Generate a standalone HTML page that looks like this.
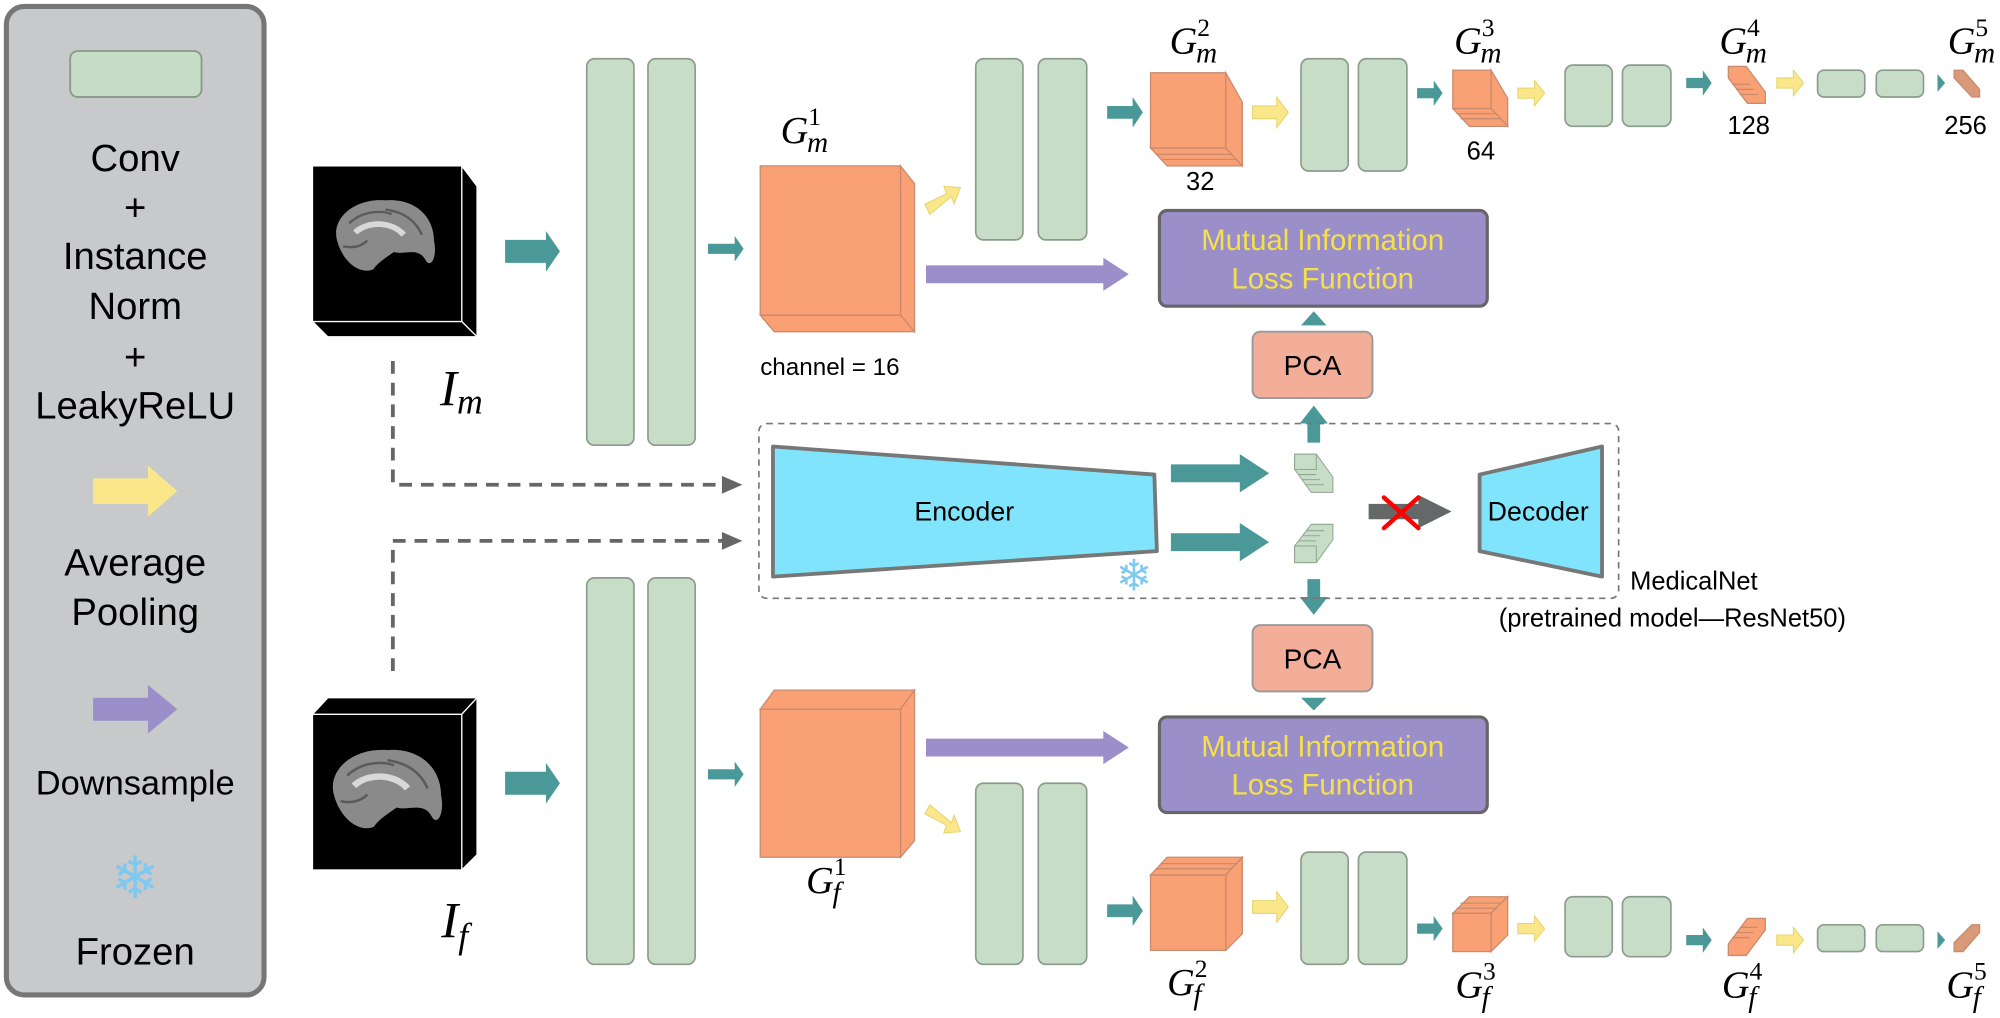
<!DOCTYPE html>
<html><head><meta charset="utf-8"><style>
html,body{margin:0;padding:0;background:#fff;}
svg{display:block;}
text{font-family:"Liberation Sans",sans-serif;}
.m text, text.m{font-family:"Liberation Serif",serif;font-style:italic;}
</style></head><body>
<svg width="2000" height="1018" viewBox="0 0 1568 798" xmlns="http://www.w3.org/2000/svg">
<defs>
<g id="brain">
<path d="M15 45 C10 25 30 8 55 10 C80 8 95 25 95 45 C98 60 92 70 88 62 C82 50 70 58 62 55 C55 60 48 65 45 70 C35 75 20 65 15 45Z" fill="#8a8a8a"/>
<path d="M30 38 C40 28 60 28 70 40" stroke="#d8d8d8" stroke-width="5" fill="none"/>
<path d="M25 30 C35 20 50 18 60 22 M55 18 C70 20 80 28 85 40 M20 50 C28 52 35 50 40 45" stroke="#5a5a5a" stroke-width="2" fill="none"/>
</g>
</defs>
<!-- legend -->
<rect x="5" y="5" width="202" height="775" rx="14" fill="#c8c9cb" stroke="#767676" stroke-width="4"/>
<rect x="55" y="40" width="103" height="36" rx="6" fill="#c6dcc6" stroke="#8c9c8c" stroke-width="1.5"/>
<g font-size="30" text-anchor="middle" fill="#000">
<text x="106" y="134">Conv</text>
<text x="106" y="173">+</text>
<text x="106" y="211">Instance</text>
<text x="106" y="250">Norm</text>
<text x="106" y="290">+</text>
<text x="106" y="328">LeakyReLU</text>
<text x="106" y="451">Average</text>
<text x="106" y="490">Pooling</text>
<text x="106" y="623" font-size="27">Downsample</text>
<text x="106" y="756">Frozen</text>
</g>
<polygon points="73,375 116,375 116,365 139,385 116,405 116,395 73,395" fill="#f9e78a"/>
<polygon points="73,547 116,547 116,537 139,556 116,575 116,565 73,565" fill="#9b8fca"/>
<text x="106" y="704" font-size="46" text-anchor="middle" fill="#7fc8f0">❄</text>

<!-- Im cube -->
<polygon points="362,130 374,146 374,264 362,252" fill="#000" stroke="#fff" stroke-width="1"/>
<polygon points="245,252 362,252 374,264 257,264" fill="#000" stroke="#fff" stroke-width="1"/>
<rect x="245" y="130" width="117" height="122" fill="#000" stroke="#fff" stroke-width="1"/>
<use href="#brain" transform="translate(250,148) scale(0.95,0.9)"/>
<text x="345" y="318" class="m" font-size="40">I<tspan font-size="28" dy="6">m</tspan></text>
<!-- If cube -->
<polygon points="245,560 257,547 374,547 362,560" fill="#000" stroke="#fff" stroke-width="1"/>
<polygon points="362,560 374,547 374,670 362,682" fill="#000" stroke="#fff" stroke-width="1"/>
<rect x="245" y="560" width="117" height="122" fill="#000" stroke="#fff" stroke-width="1"/>
<use href="#brain" transform="translate(246,578) scale(1.05,1.0)"/>
<text x="346" y="735" class="m" font-size="40">I<tspan font-size="28" dy="8">f</tspan></text>

<!-- dashed connectors -->
<g stroke="#666" stroke-width="3" stroke-dasharray="10,7" fill="none">
<path d="M308 283 V380 H572"/>
<path d="M308 526 V424 H572"/>
</g>
<polygon points="566,373 582,380 566,387" fill="#666"/>
<polygon points="566,417 582,424 566,431" fill="#666"/>

<!-- teal arrows input -->
<g fill="#4a9898">
<polygon points="396,188 428,188 428,181 439,197 428,213 428,206 396,206"/>
<polygon points="396,605 428,605 428,598 439,614 428,630 428,623 396,623"/>
<polygon points="555,191 576,191 576,185 583,195 576,205 576,199 555,199"/>
<polygon points="555,603 576,603 576,597 583,607 576,617 576,611 555,611"/>
</g>

<!-- green bars -->
<g fill="#c7ddc7" stroke="#8c9c8c" stroke-width="1.3">
<rect x="460" y="46" width="37" height="303" rx="6"/><rect x="508" y="46" width="37" height="303" rx="6"/>
<rect x="460" y="453" width="37" height="303" rx="6"/><rect x="508" y="453" width="37" height="303" rx="6"/>
<rect x="765" y="46" width="37" height="142" rx="6"/><rect x="814" y="46" width="38" height="142" rx="6"/>
<rect x="765" y="614" width="37" height="142" rx="6"/><rect x="814" y="614" width="38" height="142" rx="6"/>
<rect x="1020" y="46" width="37" height="88" rx="6"/><rect x="1065" y="46" width="38" height="88" rx="6"/>
<rect x="1020" y="668" width="37" height="88" rx="6"/><rect x="1065" y="668" width="38" height="88" rx="6"/>
<rect x="1227" y="51" width="37" height="48" rx="6"/><rect x="1272" y="51" width="38" height="48" rx="6"/>
<rect x="1227" y="703" width="37" height="47" rx="6"/><rect x="1272" y="703" width="38" height="47" rx="6"/>
<rect x="1425" y="55" width="37" height="21" rx="5"/><rect x="1471" y="55" width="37" height="21" rx="5"/>
<rect x="1425" y="725" width="37" height="21" rx="5"/><rect x="1471" y="725" width="37" height="21" rx="5"/>
</g>

<!-- orange cubes -->
<g fill="#f9a074" stroke="#c98a6e" stroke-width="1">
<polygon points="706,130 717,144 717,260 706,247"/>
<polygon points="596,247 706,247 717,260 607,260"/>
<rect x="596" y="130" width="110" height="117"/>
<polygon points="596,556 607,541 717,541 706,556"/>
<polygon points="706,556 717,541 717,659 706,672"/>
<rect x="596" y="556" width="110" height="116"/>
<!-- Gm2 -->
<polygon points="961,57 974,80 974,130 961,116"/>
<polygon points="902,116 961,116 974,130 915,130"/>
<line x1="906" y1="121" x2="966" y2="121"/><line x1="910" y1="125" x2="970" y2="125"/>
<rect x="902" y="57" width="59" height="59"/>
<!-- Gf2 -->
<polygon points="902,686 915,672 974,672 961,686"/>
<polygon points="961,686 974,672 974,732 961,745"/>
<line x1="906" y1="681" x2="966" y2="681"/><line x1="910" y1="677" x2="970" y2="677"/>
<rect x="902" y="686" width="59" height="59"/>
<!-- Gm3 -->
<polygon points="1169,55 1182,77 1182,99 1169,85"/>
<polygon points="1139,85 1169,85 1182,99 1152,99"/>
<line x1="1142" y1="89" x2="1173" y2="89"/><line x1="1145" y1="93" x2="1176" y2="93"/>
<rect x="1139" y="55" width="30" height="30"/>
<!-- Gf3 -->
<polygon points="1139,716 1152,703 1182,703 1169,716"/>
<polygon points="1169,716 1182,703 1182,733 1169,746"/>
<line x1="1142" y1="712" x2="1173" y2="712"/><line x1="1145" y1="708" x2="1176" y2="708"/>
<rect x="1139" y="716" width="30" height="30"/>
<!-- Gm4 -->
<polygon points="1355,52 1369,52 1384,72 1384,81 1370,81 1355,61"/>
<line x1="1358" y1="66" x2="1372" y2="66"/><line x1="1361" y1="70" x2="1375" y2="70"/><line x1="1364" y1="74" x2="1378" y2="74"/>
<!-- Gf4 -->
<polygon points="1355,740 1370,720 1384,720 1384,729 1369,749 1355,749"/>
<line x1="1358" y1="735" x2="1372" y2="735"/><line x1="1361" y1="731" x2="1375" y2="731"/><line x1="1364" y1="727" x2="1378" y2="727"/>
<!-- Gm5 / Gf5 -->
<polygon points="1532,55 1539,55 1552,70 1552,76 1546,76 1532,61" fill="#d99a7a"/>
<polygon points="1532,739 1546,725 1552,725 1552,731 1539,746 1532,746" fill="#d99a7a"/>
</g>

<!-- labels G -->
<g class="m" font-size="30" fill="#000">
<text x="612" y="112">G<tspan font-size="20" font-style="normal" dy="-14">1</tspan><tspan font-size="23" dx="-11" dy="21">m</tspan></text>
<text x="917" y="42">G<tspan font-size="20" font-style="normal" dy="-14">2</tspan><tspan font-size="23" dx="-11" dy="21">m</tspan></text>
<text x="1140" y="42">G<tspan font-size="20" font-style="normal" dy="-14">3</tspan><tspan font-size="23" dx="-11" dy="21">m</tspan></text>
<text x="1348" y="42">G<tspan font-size="20" font-style="normal" dy="-14">4</tspan><tspan font-size="23" dx="-11" dy="21">m</tspan></text>
<text x="1527" y="42">G<tspan font-size="20" font-style="normal" dy="-14">5</tspan><tspan font-size="23" dx="-11" dy="21">m</tspan></text>
<text x="632" y="700">G<tspan font-size="20" font-style="normal" dy="-14">1</tspan><tspan font-size="23" dx="-11" dy="21">f</tspan></text>
<text x="915" y="780">G<tspan font-size="20" font-style="normal" dy="-14">2</tspan><tspan font-size="23" dx="-11" dy="21">f</tspan></text>
<text x="1141" y="782">G<tspan font-size="20" font-style="normal" dy="-14">3</tspan><tspan font-size="23" dx="-11" dy="21">f</tspan></text>
<text x="1350" y="782">G<tspan font-size="20" font-style="normal" dy="-14">4</tspan><tspan font-size="23" dx="-11" dy="21">f</tspan></text>
<text x="1526" y="782">G<tspan font-size="20" font-style="normal" dy="-14">5</tspan><tspan font-size="23" dx="-11" dy="21">f</tspan></text>
</g>
<g font-size="20" text-anchor="middle" fill="#000">
<text x="941" y="149">32</text>
<text x="1161" y="125">64</text>
<text x="1371" y="105">128</text>
<text x="1541" y="105">256</text>
<text x="596" y="294" text-anchor="start" font-size="19">channel = 16</text>
</g>

<!-- small arrows in chain -->
<g fill="#4a9898">
<polygon points="868,83 888,83 888,76 896,88 888,100 888,93 868,93"/>
<polygon points="868,709 888,709 888,702 896,714 888,726 888,719 868,719"/>
<polygon points="1111,69 1124,69 1124,63 1131,73 1124,83 1124,77 1111,77"/>
<polygon points="1111,724 1124,724 1124,718 1131,728 1124,738 1124,732 1111,732"/>
<polygon points="1322,61 1335,61 1335,55 1342,65 1335,75 1335,69 1322,69"/>
<polygon points="1322,733 1335,733 1335,727 1342,737 1335,747 1335,741 1322,741"/>
<polygon points="1519,58 1525,65 1519,72"/>
<polygon points="1519,730 1525,737 1519,744"/>
</g>
<g fill="#f9e78a" stroke="#e6d470" stroke-width="0.8">
<polygon points="982,83 1001,83 1001,76 1010,88 1001,100 1001,93 982,93"/>
<polygon points="982,706 1001,706 1001,699 1010,711 1001,723 1001,716 982,716"/>
<polygon points="1190,69 1203,69 1203,63 1211,73 1203,83 1203,77 1190,77"/>
<polygon points="1190,724 1203,724 1203,718 1211,728 1203,738 1203,732 1190,732"/>
<polygon points="1393,61 1406,61 1406,55 1414,65 1406,75 1406,69 1393,69"/>
<polygon points="1393,733 1406,733 1406,727 1414,737 1406,747 1406,741 1393,741"/>
<polygon points="725,160 742,152 740,146 753,147 748,160 746,154 729,168"/>
<polygon points="725,638 742,647 740,653 753,652 748,639 746,645 729,631"/>
</g>
<!-- purple arrows -->
<g fill="#9b8fca">
<polygon points="726,208 865,208 865,202 885,215 865,228 865,222 726,222"/>
<polygon points="726,579 865,579 865,573 885,586 865,599 865,593 726,593"/>
</g>

<!-- MI boxes -->
<g>
<rect x="909" y="165" width="257" height="75" rx="6" fill="#9b8fca" stroke="#666" stroke-width="2.5"/>
<rect x="909" y="562" width="257" height="75" rx="6" fill="#9b8fca" stroke="#666" stroke-width="2.5"/>
<g font-size="23" fill="#f5e04a" text-anchor="middle">
<text x="1037" y="196">Mutual Information</text>
<text x="1037" y="226">Loss Function</text>
<text x="1037" y="593">Mutual Information</text>
<text x="1037" y="623">Loss Function</text>
</g>
<rect x="982" y="260" width="94" height="52" rx="6" fill="#f3ae9a" stroke="#999" stroke-width="1.5"/>
<rect x="982" y="490" width="94" height="52" rx="6" fill="#f3ae9a" stroke="#999" stroke-width="1.5"/>
<text x="1029" y="294" font-size="22" text-anchor="middle">PCA</text>
<text x="1029" y="524" font-size="22" text-anchor="middle">PCA</text>
</g>
<g fill="#4a9898">
<polygon points="1020,255 1030,244 1040,255"/>
<polygon points="1020,547 1030,557 1040,547"/>
<polygon points="1025,347 1025,332 1019,332 1030,318 1041,332 1035,332 1035,347"/>
<polygon points="1025,454 1025,468 1019,468 1030,482 1041,468 1035,468 1035,454"/>
</g>

<!-- MedicalNet box -->
<rect x="595" y="332" width="674" height="137" rx="6" fill="none" stroke="#777" stroke-width="1.3" stroke-dasharray="5,4"/>
<polygon points="606,350 905,372 907,432 606,452" fill="#80e5fc" stroke="#777" stroke-width="3" stroke-linejoin="round"/>
<text x="756" y="408" font-size="21" text-anchor="middle">Encoder</text>
<text x="889" y="463" font-size="34" text-anchor="middle" fill="#7fc8f0">❄</text>
<polygon points="1160,372 1256,350 1256,452 1160,432" fill="#80e5fc" stroke="#777" stroke-width="3" stroke-linejoin="round"/>
<text x="1206" y="408" font-size="21" text-anchor="middle">Decoder</text>
<g fill="#4a9898">
<polygon points="918,364 972,364 972,356 995,371 972,386 972,378 918,378"/>
<polygon points="918,418 972,418 972,410 995,425 972,440 972,432 918,432"/>
</g>
<g fill="#c7ddc7" stroke="#8fa88f" stroke-width="0.8">
<polygon points="1015,356 1032,356 1045,374 1045,386 1028,386 1015,368"/>
<line x1="1018" y1="372" x2="1032" y2="372"/><line x1="1021" y1="376" x2="1035" y2="376"/><line x1="1024" y1="380" x2="1038" y2="380"/>
<rect x="1015" y="356" width="17" height="12"/>
<polygon points="1015,428 1028,411 1045,411 1045,423 1032,441 1015,441"/>
<line x1="1018" y1="424" x2="1032" y2="424"/><line x1="1021" y1="420" x2="1035" y2="420"/><line x1="1024" y1="416" x2="1038" y2="416"/>
<rect x="1015" y="428" width="17" height="13"/>
</g>
<polygon points="1073,395 1112,395 1112,388 1138,401 1112,414 1112,407 1073,407" fill="#646868"/>
<g stroke="#f00" stroke-width="3.5" stroke-linecap="round">
<line x1="1085" y1="390" x2="1112" y2="414"/><line x1="1112" y1="390" x2="1085" y2="414"/>
</g>
<text x="1278" y="462" font-size="20">MedicalNet</text>
<text x="1175" y="491" font-size="20">(pretrained model—ResNet50)</text>
</svg>
</body></html>
